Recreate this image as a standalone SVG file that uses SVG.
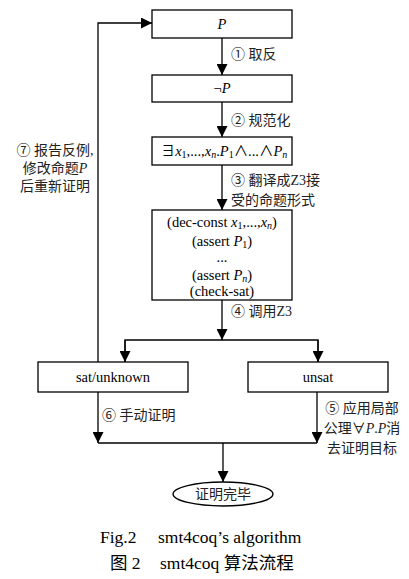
<svg xmlns="http://www.w3.org/2000/svg" width="409" height="579" viewBox="0 0 409 579">
<defs>
<marker id="ah2" viewBox="0 0 10 10" refX="10" refY="5" markerWidth="11" markerHeight="11" markerUnits="userSpaceOnUse" orient="auto">
<path d="M0,0 L10,5 L0,10 z" fill="#000"/>
</marker>
</defs>
<style>
.box{fill:#fff;stroke:#000;stroke-width:1.3}
.ln{fill:none;stroke:#000;stroke-width:1.3}
.t{font-family:"Liberation Serif","Noto Sans CJK SC",serif;font-size:14.5px;fill:#000}
.c{font-family:"Liberation Serif","Noto Sans CJK SC",serif;font-size:14px;fill:#222}
.i{font-style:italic}
.s{font-size:10px}
.cap{font-family:"Liberation Serif","Noto Sans CJK SC",serif;font-size:17.5px;fill:#000}
</style>
<rect width="409" height="579" fill="#fff"/>
<g id="connectors">
<line class="ln" x1="222" y1="38" x2="222" y2="75" marker-end="url(#ah2)"/>
<line class="ln" x1="222" y1="102" x2="222" y2="137" marker-end="url(#ah2)"/>
<line class="ln" x1="222" y1="165" x2="222" y2="210" marker-end="url(#ah2)"/>
<line class="ln" x1="222" y1="300" x2="222" y2="340" marker-end="url(#ah2)"/>
<polyline class="ln" points="125,362 125,340 318,340 318,362"/>
<line class="ln" x1="125" y1="340" x2="125" y2="362" marker-end="url(#ah2)"/>
<line class="ln" x1="318" y1="340" x2="318" y2="362" marker-end="url(#ah2)"/>
<polyline class="ln" points="98,362 98,23 152,23" marker-end="url(#ah2)"/>
<line class="ln" x1="98" y1="392" x2="98" y2="443" marker-end="url(#ah2)"/>
<line class="ln" x1="317" y1="392" x2="317" y2="443" marker-end="url(#ah2)"/>
<line class="ln" x1="98" y1="443" x2="317" y2="443"/>
<line class="ln" x1="223" y1="443" x2="223" y2="482" marker-end="url(#ah2)"/>
<text class="c" x="231" y="59">① 取反</text>
<text class="c" x="231" y="125">② 规范化</text>
<text class="c" x="231" y="185">③ 翻译成Z3接</text>
<text class="c" x="231" y="205">受的命题形式</text>
<text class="c" x="231" y="316">④ 调用Z3</text>
<text class="c" x="55" y="155" text-anchor="middle">⑦ 报告反例,</text>
<text class="c" x="55" y="173" text-anchor="middle">修改命题<tspan class="i">P</tspan></text>
<text class="c" x="55" y="191" text-anchor="middle">后重新证明</text>
<text class="c" x="102" y="420">⑥ 手动证明</text>
<text class="c" x="362" y="413" text-anchor="middle">⑤ 应用局部</text>
<text class="c" x="362" y="433" text-anchor="middle">公理∀<tspan class="i">P</tspan>.<tspan class="i">P</tspan>消</text>
<text class="c" x="362" y="453" text-anchor="middle">去证明目标</text>
</g>
<g id="node-p">
<rect class="box" x="152" y="10" width="140" height="28"/>
<text class="t i" x="222" y="29" text-anchor="middle">P</text>
</g>
<g id="node-notp">
<rect class="box" x="152" y="75" width="140" height="27"/>
<text class="t" x="222" y="93" text-anchor="middle">¬<tspan class="i">P</tspan></text>
</g>
<g id="node-exists">
<rect class="box" x="152" y="137" width="140" height="28"/>
<text class="t" x="224" y="156" text-anchor="middle">∃<tspan class="i">x</tspan><tspan class="s" dy="2">1</tspan><tspan dy="-2">,...,</tspan><tspan class="i">x</tspan><tspan class="i s" dy="2">n</tspan><tspan dy="-2">.</tspan><tspan class="i">P</tspan><tspan class="s" dy="2">1</tspan><tspan dy="-2">∧...∧</tspan><tspan class="i">P</tspan><tspan class="i s" dy="2">n</tspan></text>
</g>
<g id="node-smt">
<rect class="box" x="152" y="210" width="140" height="90"/>
<text class="t" x="222" y="227" text-anchor="middle">(dec-const <tspan class="i">x</tspan><tspan class="s" dy="2">1</tspan><tspan dy="-2">,...,</tspan><tspan class="i">x</tspan><tspan class="i s" dy="2">n</tspan><tspan dy="-2">)</tspan></text>
<text class="t" x="222" y="246" text-anchor="middle">(assert <tspan class="i">P</tspan><tspan class="s" dy="2">1</tspan><tspan dy="-2">)</tspan></text>
<text class="t" x="222" y="262" text-anchor="middle">...</text>
<text class="t" x="222" y="280" text-anchor="middle">(assert <tspan class="i">P</tspan><tspan class="i s" dy="2">n</tspan><tspan dy="-2">)</tspan></text>
<text class="t" x="222" y="296" text-anchor="middle">(check-sat)</text>
</g>
<g id="node-sat">
<rect class="box" x="38" y="362" width="150" height="30"/>
<text class="t" x="113" y="382" text-anchor="middle">sat/unknown</text>
</g>
<g id="node-unsat">
<rect class="box" x="248" y="362" width="140" height="30"/>
<text class="t" x="318" y="382" text-anchor="middle">unsat</text>
</g>
<g id="node-done">
<ellipse class="box" cx="223" cy="494" rx="50" ry="12"/>
<text class="c" x="223" y="499" text-anchor="middle">证明完毕</text>
</g>
<g id="caption">
<text class="cap" x="100" y="543">Fig.2<tspan x="158">smt4coq’s algorithm</tspan></text>
<text class="cap" x="110" y="569">图 2<tspan x="160">smt4coq 算法流程</tspan></text>
</g>
</svg>
